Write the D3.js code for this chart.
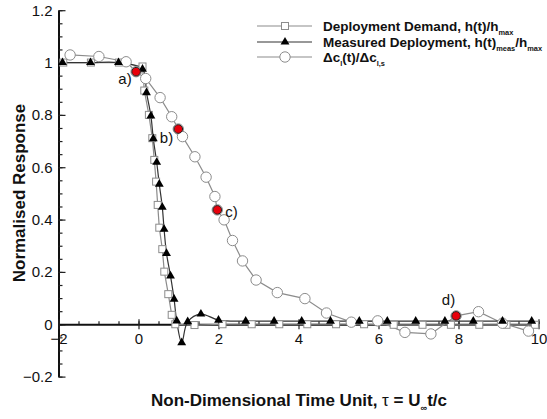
<!DOCTYPE html>
<html>
<head>
<meta charset="utf-8">
<script src="https://cdn.jsdelivr.net/npm/d3@7"></script>
<style>
body { margin: 0; background: #fff; }
svg { font-family: Arial, "Liberation Sans", sans-serif; }
</style>
</head>
<body>
<svg></svg>
<script>
// Deployment demand (squares)
var demandT = [-1.88, -1.19, -0.49, 0.1, 0.145, 0.26, 0.345, 0.395, 0.44, 0.48, 0.52, 0.595, 0.645, 0.745, 0.83, 0.92, 1.4, 2.1, 2.83, 3.52, 4.22, 4.94, 5.64, 6.38, 7.1, 7.81, 8.52, 9.2, 9.91];
var demandV = [1.0, 1.0, 1.0, 0.985, 0.893, 0.80, 0.711, 0.628, 0.545, 0.456, 0.369, 0.287, 0.201, 0.115, 0.036, 0.0, -0.003, 0.0, 0.0, 0.0, 0.0, 0.0, 0.0, -0.002, -0.002, -0.002, -0.002, -0.002, -0.002];
// Measured deployment (triangles)
var measT = [-1.9, -1.2, -0.5, 0.1, 0.2, 0.31, 0.37, 0.455, 0.52, 0.595, 0.64, 0.70, 0.80, 0.89, 0.955, 1.08, 1.23, 1.56, 2.0, 2.68, 3.39, 4.08, 4.8, 5.52, 6.22, 6.93, 7.66, 8.37, 9.1, 9.83];
var measV = [1.0, 1.0, 1.0, 0.975, 0.885, 0.796, 0.709, 0.619, 0.535, 0.447, 0.363, 0.271, 0.185, 0.096, 0.013, -0.07, 0.01, 0.039, 0.016, 0.012, 0.012, 0.012, 0.012, 0.012, 0.012, 0.012, 0.012, 0.012, 0.012, 0.012];
// Lift response (circles)
var liftT = [-1.71, -0.99, -0.31, -0.06, 0.18, 0.54, 0.83, 0.995, 1.10, 1.41, 1.69, 1.91, 1.97, 2.14, 2.35, 2.6, 2.94, 3.47, 4.16, 4.7, 5.32, 5.98, 6.66, 7.31, 7.94, 8.5, 9.1, 9.75];
var liftV = [1.029, 1.023, 1.003, 0.965, 0.939, 0.866, 0.793, 0.746, 0.717, 0.640, 0.562, 0.488, 0.437, 0.399, 0.320, 0.242, 0.169, 0.121, 0.098, 0.043, 0.008, 0.013, -0.031, -0.037, 0.032, 0.048, 0.004, -0.026];
// highlighted instants
var markT = [-0.06, 0.995, 1.97, 7.94];
var markV = [0.965, 0.746, 0.437, 0.032];
var markLabels = ["a)", "b)", "c)", "d)"];

var xTicks = [-2, 0, 2, 4, 6, 8, 10];
var yTicks = [-0.2, 0, 0.2, 0.4, 0.6, 0.8, 1, 1.2];

var width = 547, height = 419;
var svg = d3.select("svg").attr("width", width).attr("height", height);

var x = d3.scaleLinear().domain([-2, 10]).range([58.5, 538.5]);
var y = d3.scaleLinear().domain([-0.2, 1.2]).range([376.6, 10.2]);

function zip(a, b) { return a.map(function (d, i) { return [d, b[i]]; }); }
var demand = zip(demandT, demandV), meas = zip(measT, measV), lift = zip(liftT, liftV), marks = zip(markT, markV);

// axes
var fmt = function (d) { return d3.format("")(+d.toFixed(1)); };
var yAxis = svg.append("g").attr("transform", "translate(" + x(-2) + ",0)")
    .call(d3.axisLeft(y).tickValues(yTicks).tickFormat(fmt).tickSizeInner(-7).tickSizeOuter(0).tickPadding(6));
svg.append("g").attr("transform", "translate(" + x(-2) + ",0)")
    .call(d3.axisLeft(y).tickValues(d3.range(-0.2, 1.2001, 0.05)).tickFormat("").tickSizeInner(-4).tickSizeOuter(0))
    .select(".domain").remove();
var xAxis = svg.append("g").attr("transform", "translate(0," + y(0) + ")")
    .call(d3.axisBottom(x).tickValues(xTicks).tickFormat(d3.format("")).tickSizeInner(5).tickSizeOuter(0).tickPadding(4));
svg.append("g").attr("transform", "translate(0," + y(0) + ")")
    .call(d3.axisTop(x).tickValues(xTicks).tickFormat("").tickSizeInner(5).tickSizeOuter(0))
    .select(".domain").remove();
svg.append("g").attr("transform", "translate(0," + y(0) + ")")
    .call(d3.axisTop(x).tickValues(d3.range(-2, 10.001, 0.5)).tickFormat("").tickSizeInner(3).tickSizeOuter(0))
    .select(".domain").remove();
svg.selectAll(".domain").attr("stroke", "#111").attr("stroke-width", 2);
svg.selectAll(".tick line").attr("stroke", "#222").attr("stroke-width", 1.2);
svg.selectAll(".tick text").attr("font-size", 15).attr("fill", "#111").attr("font-family", "Arial, 'Liberation Sans', sans-serif");

// series
var line = d3.line().x(function (d) { return x(d[0]); }).y(function (d) { return y(d[1]); });
var smooth = d3.line().x(function (d) { return x(d[0]); }).y(function (d) { return y(d[1]); }).curve(d3.curveCatmullRom.alpha(0.5));

svg.append("path").attr("d", line(lift)).attr("fill", "none").attr("stroke", "#8c8c8c").attr("stroke-width", 1.2);
svg.append("path").attr("d", line(demand)).attr("fill", "none").attr("stroke", "#8c8c8c").attr("stroke-width", 1.2);
svg.append("path").attr("d", smooth(meas)).attr("fill", "none").attr("stroke", "#333").attr("stroke-width", 1.2);

var sq = 7, tri = d3.symbol().type(d3.symbolTriangle).size(34);
svg.selectAll(".sq").data(demand).enter().append("rect").attr("class", "sq")
    .attr("x", function (d) { return x(d[0]) - sq / 2; })
    .attr("y", function (d) { return y(d[1]) - sq / 2; })
    .attr("width", sq).attr("height", sq)
    .attr("fill", "#fff").attr("stroke", "#8c8c8c").attr("stroke-width", 1);
svg.selectAll(".ci").data(lift).enter().append("circle").attr("class", "ci")
    .attr("cx", function (d) { return x(d[0]); })
    .attr("cy", function (d) { return y(d[1]); })
    .attr("r", 5.2).attr("fill", "#fff").attr("stroke", "#8c8c8c").attr("stroke-width", 1);
svg.selectAll(".tr").data(meas).enter().append("path").attr("class", "tr")
    .attr("d", tri)
    .attr("transform", function (d) { return "translate(" + x(d[0]) + "," + y(d[1]) + ")"; })
    .attr("fill", "#000");
svg.selectAll(".mk").data(marks).enter().append("circle").attr("class", "mk")
    .attr("cx", function (d) { return x(d[0]); })
    .attr("cy", function (d) { return y(d[1]); })
    .attr("r", 4.3).attr("fill", "#e8000b").attr("stroke", "#222").attr("stroke-width", 1);

var labelPos = [[125, 84], [166.5, 143], [231.5, 216.5], [448.5, 305]];
svg.selectAll(".ml").data(markLabels).enter().append("text").attr("class", "ml")
    .attr("x", function (d, i) { return labelPos[i][0]; })
    .attr("y", function (d, i) { return labelPos[i][1]; })
    .attr("text-anchor", "middle").attr("font-size", 15).attr("fill", "#111")
    .text(function (d) { return d; });

// legend
var legend = svg.append("g");
var rows = [26, 42, 57];
legend.selectAll("line").data(rows).enter().append("line")
    .attr("x1", 257).attr("x2", 312).attr("y1", function (d) { return d; }).attr("y2", function (d) { return d; })
    .attr("stroke", function (d, i) { return i === 1 ? "#333" : "#8c8c8c"; }).attr("stroke-width", 1.2);
legend.append("rect").attr("x", 285 - sq / 2).attr("y", rows[0] - sq / 2).attr("width", sq).attr("height", sq)
    .attr("fill", "#fff").attr("stroke", "#8c8c8c");
legend.append("path").attr("d", tri).attr("transform", "translate(285," + rows[1] + ")").attr("fill", "#000");
legend.append("circle").attr("cx", 285).attr("cy", rows[2]).attr("r", 5.2).attr("fill", "#fff").attr("stroke", "#8c8c8c");

function richText(g, xPos, yPos, parts, size) {
    var t = g.append("text").attr("x", xPos).attr("y", yPos).attr("font-size", size).attr("font-weight", "bold").attr("fill", "#111");
    parts.forEach(function (p) {
        var s = t.append("tspan").text(p.t);
        if (p.sub) s.attr("font-size", size * 0.55).attr("dy", size * 0.3);
        if (p.up) s.attr("dy", -size * 0.3);
        if (p.normal) s.attr("font-weight", "normal");
    });
    return t;
}
richText(legend, 323, rows[0] + 5, [{t: "Deployment Demand, h(t)/h"}, {t: "max", sub: true}], 13.5);
richText(legend, 323, rows[1] + 5, [{t: "Measured Deployment, h(t)"}, {t: "meas", sub: true}, {t: "/h", up: true}, {t: "max", sub: true}], 13.5);
richText(legend, 323, rows[2] + 5, [{t: "\u0394c"}, {t: "l", sub: true}, {t: "(t)/\u0394c", up: true}, {t: "l,s", sub: true}], 13.5);

// axis titles
var xt = richText(svg, 299, 406, [{t: "Non-Dimensional Time Unit, "}, {t: "\u03c4", normal: true}, {t: " = U"}, {t: "\u221e", sub: true}, {t: "t/c", up: true}], 17);
xt.attr("text-anchor", "middle");
svg.append("text").attr("transform", "translate(25,193) rotate(-90)")
    .attr("text-anchor", "middle").attr("font-size", 17).attr("font-weight", "bold").attr("fill", "#111")
    .text("Normalised Response");
</script>
</body>
</html>
